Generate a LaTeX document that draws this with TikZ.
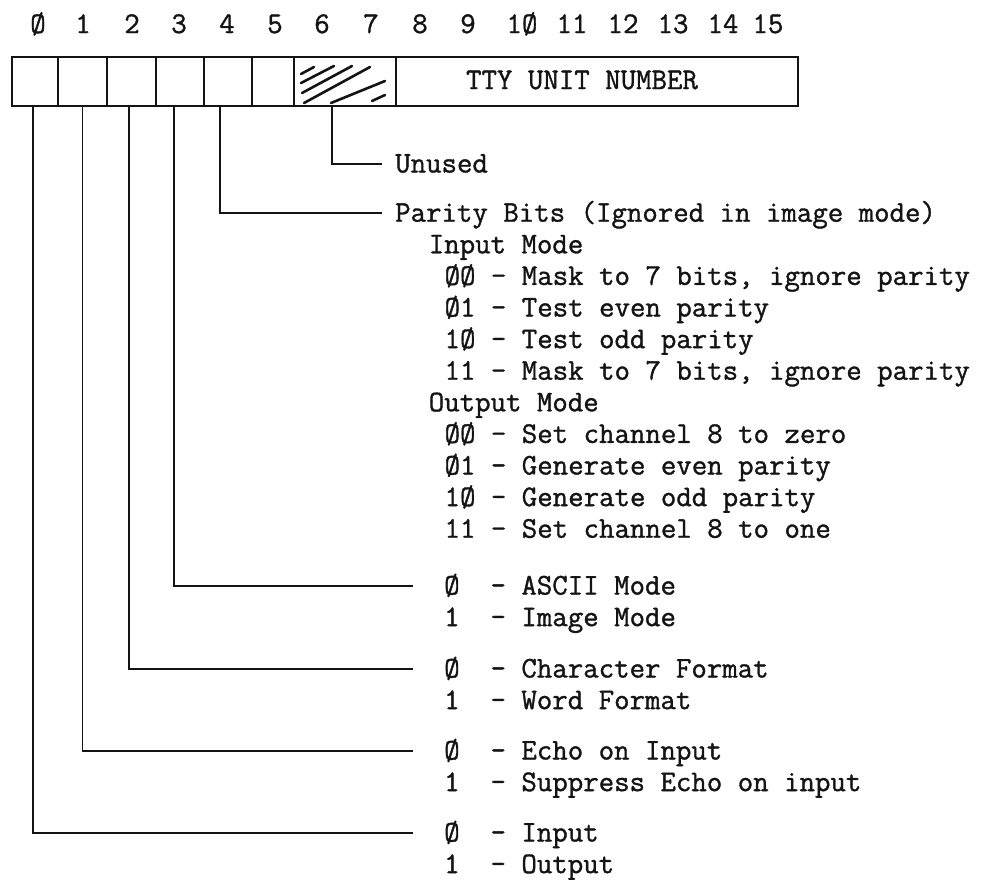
\documentclass[tikz,border=0pt]{standalone}
\usepackage{fontspec}
\setmonofont{Latin Modern Mono}[FakeBold=1.2]
\usepackage{tikz}
\usetikzlibrary{calc}
\definecolor{Ink}{HTML}{141414}

\begin{document}
\begin{tikzpicture}[x=1pt,y=-1pt,Ink,
  font=\ttfamily\fontsize{30}{32}\selectfont,
  cell/.style={draw,line width=2.4pt,minimum height=49pt,inner sep=0},
  row/.style={anchor=base west,inner sep=0,text height=19pt,text depth=2pt},
  head/.style={row,inner xsep=13pt},
  pick/.style={row,inner xsep=31pt},
  lead/.style={line width=1.9pt},
  hatch/.style={line width=2.6pt,line cap=round}]
\useasboundingbox (0,0) rectangle (995,881);

% Bit numbers over the register.
\foreach \x/\lab [count=\i from 0] in {38/Ø,83/1,132/2,179/3,227/4,275/5,322/6,371/7,
    420/8,468/9,522/1Ø,572/11,623/12,673/13,723/14,768/15}
  \node[anchor=base,inner sep=0] (n\i) at (\x,33) {\lab};

% Register cells.
\foreach \l/\r [count=\i from 0, evaluate=\r as \w using \r-\l] in
    {12/58,58/107,107/156,156/204,204/252,252/294,294/396,396/798}
  \node[cell,minimum width=\w pt] (b\i) at ({(\l+\r)/2},81.5) {};
\node[anchor=base,inner sep=0] (tty) at (582,89) {TTY UNIT NUMBER};

% Unused bits 6-7.
\draw[hatch] (301,74)--(314,67) (301,83)--(334,66) (302,93)--(352,66)
  (304,103)--(370,67) (331,103)--(385,81) (372,101)--(385,95);

% Descriptions.
\node[head] (unused) at (382,172.5) {Unused};
\node[head] (par) at (382,221.7) {Parity Bits (Ignored in image mode)};
\foreach \c/\txt [count=\k] in {2/Input Mode,
    3/{ØØ - Mask to 7 bits, ignore parity},
    3/Ø1 - Test even parity,
    3/1Ø - Test odd parity,
    3/{11 - Mask to 7 bits, ignore parity},
    2/Output Mode,
    3/ØØ - Set channel 8 to zero,
    3/Ø1 - Generate even parity,
    3/1Ø - Generate odd parity,
    3/11 - Set channel 8 to one}
  \node[row] (p\k) at ({397+\c*15.8},{221.7+\k*31.6}) {\txt};
\foreach \i/\y/\one/\two in {3/594.5/ASCII Mode/Image Mode,
    2/677.5/Character Format/Word Format,
    1/759.5/Echo on Input/Suppress Echo on input,
    0/841.5/Input/Output} {
  \node[pick] (v\i) at (413,\y) {Ø\ \ -\ \one};
  \node[pick] (w\i) at (413,{\y+31.6}) {1\ \ -\ \two};
}

% Leaders from the bits.
\draw[lead] ([xshift=-13pt]b6.south) |- (unused.west);
\draw[lead] ([xshift=-8pt]b4.south) |- (par.west);
\foreach \i/\dx in {3/-6,2/-2.5,1/0,0/-2}
  \draw[lead] ([xshift=\dx pt]b\i.south) |- (v\i.west);
\end{tikzpicture}
\end{document}
